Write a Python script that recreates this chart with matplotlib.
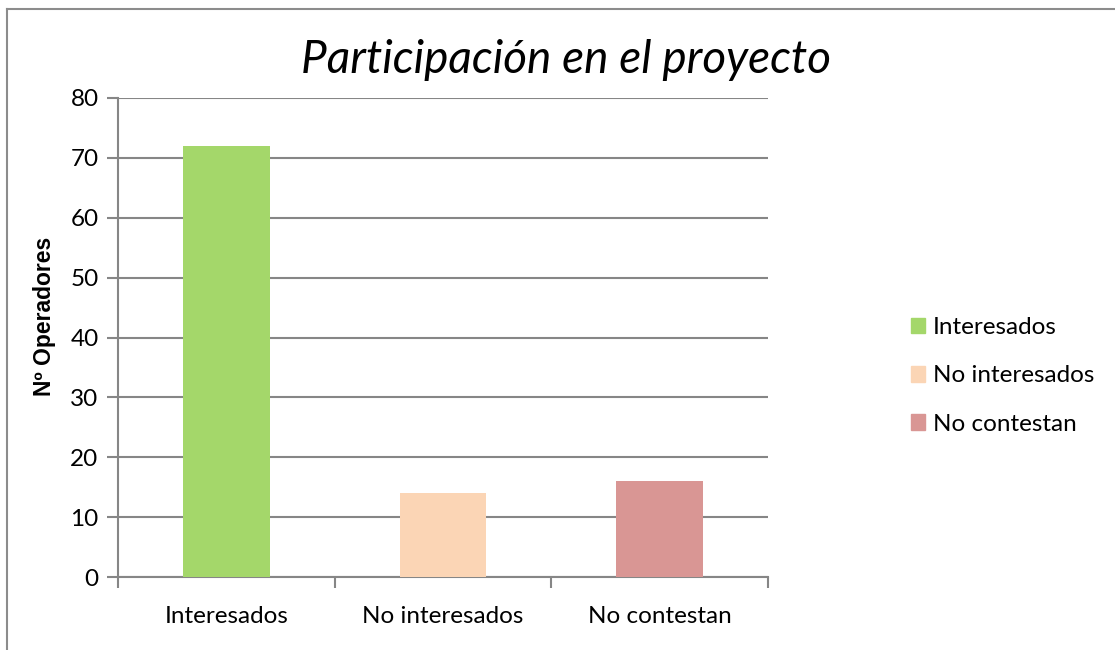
import matplotlib.pyplot as plt
from matplotlib.lines import Line2D
from matplotlib.patches import Patch

categories = ['Interesados', 'No interesados', 'No contestan']
values = [72, 14, 16]
colors = ['#A4D76A', '#FBD5B5', '#D99694']
yticks = [0, 10, 20, 30, 40, 50, 60, 70, 80]

plt.rcParams['font.family'] = ['Lato', 'DejaVu Sans']
grid_c = '#868686'

fig = plt.figure(figsize=(11.15, 6.5), dpi=100)
ax = fig.add_axes([118/1115, 1 - 577/650, 650/1115, 479/650])

x = list(range(len(categories)))
ax.bar(x, values, width=0.4, color=colors, zorder=3)

ax.set_xlim(-0.5, 2.5)
ax.set_ylim(0, 80)
ax.set_yticks(yticks)
ax.yaxis.grid(True, color=grid_c, linewidth=1.5, zorder=0)
ax.set_xticks(x)
ax.set_xticklabels(categories, fontsize=17.5)
ax.set_xticks([-0.5, 0.5, 1.5, 2.5], minor=True)
ax.tick_params(axis='x', which='major', length=0, pad=21)
ax.tick_params(axis='x', which='minor', length=8, width=1.5, color=grid_c)
ax.tick_params(axis='y', length=8, width=1.5, color=grid_c, labelsize=17.5, pad=6)

for s in ['top', 'right']:
    ax.spines[s].set_visible(False)
for s in ['left', 'bottom']:
    ax.spines[s].set_color(grid_c)
    ax.spines[s].set_linewidth(1.5)

ax.set_ylabel('Nº Operadores', fontsize=16.5, fontweight='bold',
              family=['Liberation Sans', 'DejaVu Sans'], va='center')
ax.yaxis.set_label_coords(-73/650, 261/479)
fig.text(566/1115, 1 - 60/650, 'Participación en el proyecto', fontsize=33,
         style='italic', ha='center', va='center')

handles = [Patch(color=c) for c in colors]
fig.legend(handles, categories, loc='center left', bbox_to_anchor=(889/1115, 1 - 376/650),
           frameon=False, fontsize=17.5, handlelength=0.6, handleheight=0.6,
           handletextpad=0.3, labelspacing=1.12)

# chart frame (only top and left edges visible)
fig.add_artist(Line2D([6.5/1115, 6.5/1115], [0, 1 - 9/650], color='#8c8c8c', lw=1.5,
                      transform=fig.transFigure))
fig.add_artist(Line2D([6.5/1115, 1], [1 - 9/650, 1 - 9/650], color='#8c8c8c', lw=1.5,
                      transform=fig.transFigure))

plt.savefig('out.png')
